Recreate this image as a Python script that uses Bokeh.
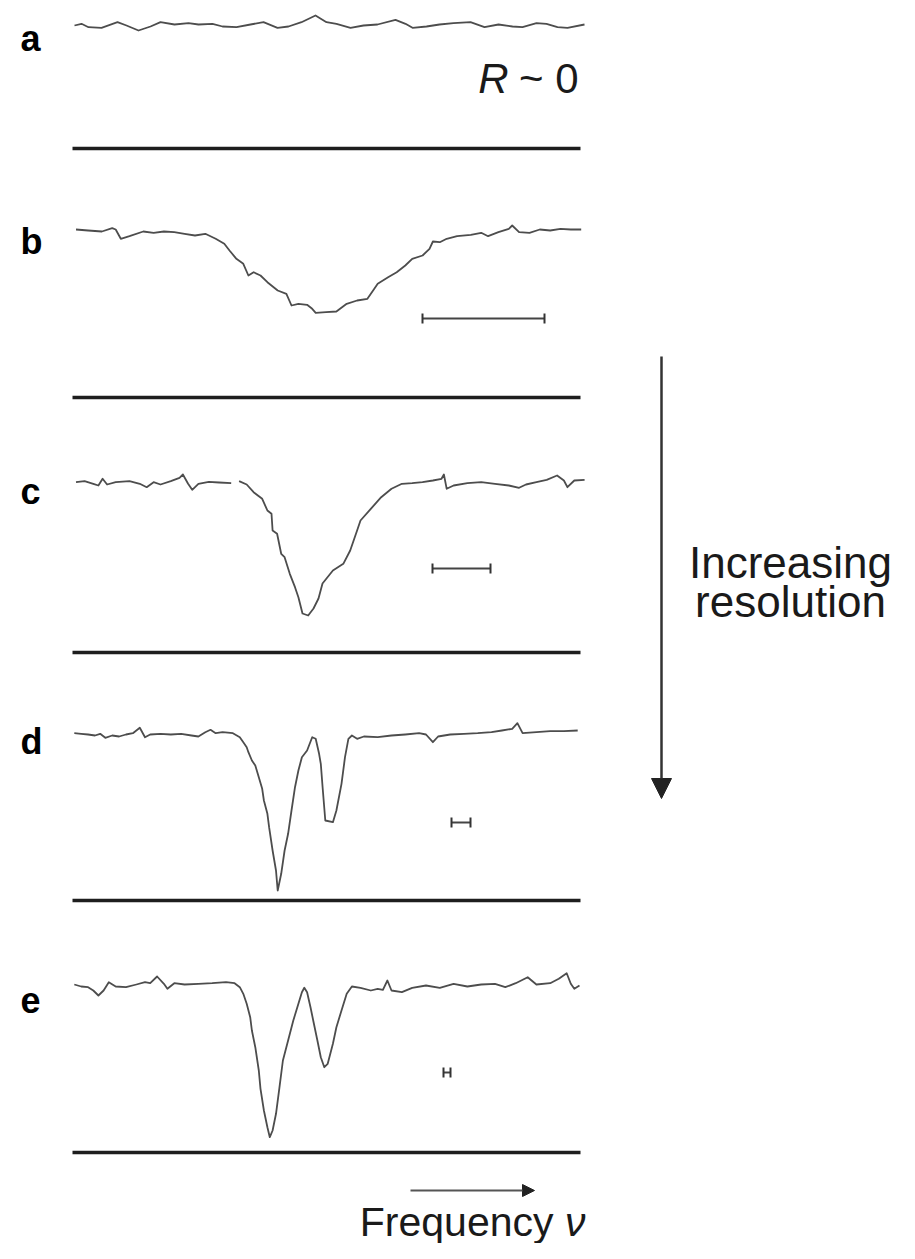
import math
from bokeh.plotting import figure
from bokeh.models import Range1d, Arrow, NormalHead
from bokeh.core.properties import value
from bokeh.embed import file_html
from bokeh.resources import INLINE

NAN = float("nan")

# ---------------- data ----------------
# frequency (arb. units) and recorded signal above the zero level (arb. units)
nu_a = [74, 81, 88, 101, 117, 126, 138, 150, 160, 174, 188, 198, 212, 222, 236, 250, 263, 277,
        288, 301, 315, 326, 336, 350, 363, 377, 395, 405, 412, 426, 439, 453, 470, 484, 498,
        512, 522, 536, 546, 557, 567, 584]
sig_a = [123, 124.7, 121.3, 120.7, 126.3, 123, 118, 122, 126.3, 124, 125.3, 124, 124.7, 122,
         121.3, 124, 126.3, 120.7, 122, 126.3, 133, 126.3, 124.7, 120.7, 123, 124, 128.7, 124.7,
         120.7, 122, 124, 125.3, 126.3, 121.3, 124, 122, 121.3, 125.3, 124.7, 121.3, 120.7, 124]

nu_b = [75.5, 87.6, 101.4, 111.7, 115.2, 120.3, 129, 142.8, 153.1, 163.4,
        173.8, 184.1, 194.5, 204.8, 215.2, 223.8, 229, 235.9, 242.8, 247.9,
        253.1, 260, 266.9, 277.2, 285.9, 291, 297.9, 306.6, 311.7, 315.2,
        325.5, 335.9, 346.2, 356.6, 366.9, 373.8, 377.2, 387.6, 396.2, 404.8,
        411.7, 422.1, 429, 432.4, 439.3, 446.2, 456.6, 470.3, 480.7, 487.6,
        497.9, 508.3, 511.7, 518.6, 529, 539.3, 549.7, 560, 570.3, 580.7]
sig_b = [168, 167, 166, 169.3, 168, 158.7, 161.3, 166, 164.7, 166,
         165.3, 163.7, 162, 163.7, 158.7, 153.7, 147, 138.7, 133.7, 122,
         125.3, 122, 115.3, 107, 103.7, 92, 93.7, 92.7, 88.7, 84.7,
         85.3, 86, 93.7, 97, 98.7, 108.7, 113.7, 120.3, 125.3, 132,
         138.7, 142, 148.7, 156, 155.3, 158.7, 161.3, 162.7, 164.7, 161.3,
         165.3, 168.7, 172, 165.3, 164.7, 168, 167, 168.7, 168, 168]

nu_c = [75.5, 84.1, 92.8, 97.9, 102.1, 106.6, 115.2, 129, 139.3, 146.2,
        153.1, 160, 170.3, 179, 182.4, 187.6, 191.7, 197.9, 208.3, 218.6,
        230.7, 234.5, 238.6, 246.2, 253.1, 261.7, 266.9, 271, 272.1, 276.6,
        280.7, 284.1, 289.3, 294.5, 297.9, 302, 307.7, 313, 318, 322,
        332.4, 342.8, 349.7, 356.6, 360, 370.3, 380.7, 391, 401.4, 411.7,
        422, 432.4, 441, 443.4, 446.2, 453.1, 466.9, 480.7, 494.5, 508.3,
        518.6, 525.5, 535.9, 546.2, 556.6, 563.4, 566.9, 573.8, 584.1]
sig_c = [170.3, 171.3, 168.7, 167, 173.7, 168, 170.3, 171.3, 168.7, 165.3,
         170.3, 168, 171.3, 174.7, 178, 168.7, 162.7, 168.7, 170.7, 170,
         169.3, NAN, 171.3, 168, 160.3, 153.7, 142, 138.7, 122, 118.7,
         98.7, 95.3, 78.7, 65.3, 55.3, 39, 37, 44, 54, 69,
         82, 88.7, 102, 122, 132, 143.7, 155.3, 163.7, 168.7, 169.3,
         170.3, 172, 173.7, 178, 163.7, 167, 169.3, 170.3, 168.7, 167,
         164.7, 168, 170.3, 172.7, 177, 172, 165.3, 172, 172.7]

nu_d = [73.8, 80.7, 87.6, 94.5, 99.7, 104.8, 111.7, 118.6, 125.5, 132.4,
        139.3, 144.5, 149.7, 160, 170.3, 180.7, 191, 197.9, 204.8, 210,
        215.2, 222.1, 232.4, 239.3, 242.8, 246.2, 247.9, 251.4, 254.8, 258.3,
        261.7, 263.4, 266.9, 268.6, 272.1, 275.5, 277.2, 280.7, 284.1, 287.6,
        291, 294.5, 297.9, 301.4, 306.6, 311.7, 315.2, 318.6, 320.3, 322.1,
        324.8, 332.4, 335.9, 341, 344.5, 347.9, 351.4, 356.6, 363.4, 377.2,
        391, 404.8, 418.6, 425.5, 432.4, 437.6, 449.7, 463.4, 477.2, 491,
        501.4, 511.7, 516.9, 522.1, 535.9, 549.7, 563.4, 577.2]
sig_d = [167.3, 166.7, 166, 165, 166.7, 162.7, 165, 164, 166, 167.3,
         172.7, 163.3, 166, 166.7, 166, 166.7, 165, 164, 168.3, 170.7,
         167.3, 168.3, 167.3, 163.3, 158.3, 153.3, 148.3, 140, 135, 123.3,
         111.7, 100, 86.7, 73.3, 50, 30, 10, 26.7, 50, 66.7,
         90, 113.3, 130, 143.3, 150, 163.3, 161.7, 146.7, 136.7, 113.3,
         80, 78.3, 90, 116.7, 143.3, 161.7, 165, 161.7, 164, 163.3,
         165, 166, 167.3, 166, 158.3, 164, 166, 166.7, 167.3, 168.3,
         170, 171.7, 177.3, 167.3, 168.3, 169.3, 169.3, 170]

nu_e = [73.8, 80.7, 87.6, 92.8, 97.9, 103.1, 108.3, 115.2, 125.5, 135.9,
        144.5, 149.7, 156.6, 163.4, 166.9, 173.8, 184.1, 197.9, 211.7, 225.5,
        234.1, 239.3, 242.8, 246.2, 249.7, 251.4, 254.8, 258.3, 260, 263.4,
        266.9, 269.3, 272.1, 275.5, 279, 282.4, 287.6, 292.8, 297.9, 301.4,
        303.8, 306.6, 310, 313.4, 316.9, 320.3, 323.8, 327.2, 332.4, 335.9,
        341, 346.2, 351.4, 360, 370.3, 377.2, 382.4, 386.9, 391, 401.4,
        411.7, 425.5, 439.3, 453.1, 466.9, 480.7, 494.5, 504.8, 515.2, 527.2,
        535.9, 549.7, 558.3, 566.2, 570.3, 573.8, 579]
sig_e = [168, 166, 165.3, 162, 157, 162, 170.3, 166, 165.3, 168,
         170.3, 169.3, 176, 168.7, 163.7, 169.3, 168, 168.7, 169.3, 170.3,
         169.3, 165.3, 158.7, 148.7, 135.3, 122, 105.3, 82, 63.7, 42,
         25.3, 15.3, 22, 38.7, 65.3, 92, 112, 132, 148.7, 160.3,
         164.7, 160.3, 145.3, 128.7, 112, 95.3, 85.3, 88.7, 108.7, 125.3,
         142, 158.7, 166, 164.7, 162, 163.7, 162.7, 172, 162, 160.3,
         164.7, 167, 164.7, 168.7, 166, 168, 168.7, 165.3, 169.3, 175.3,
         168, 169.3, 173.7, 179.3, 168.7, 163.7, 167]

panel_names = ["a", "b", "c", "d", "e"]
# spectral resolution of the instrument (frequency interval, arb. units)
res_lo = [NAN, 422, 432, 451, 443]
res_hi = [NAN, 544, 490, 470, 450]

# ---------------- layout ----------------
W, H = 899, 1243
FONT = "Liberation Sans"
TRACE = "#4d4d4d"
INK = "#1a1a1a"

zero_y = [148, 397, 652, 900, 1152]
label_base = [38, 241, 491, 741, 999]
res_y = [None, 318, 568, 822, 1072]
line_x0, line_x1 = 72, 580

p = figure(width=W, height=H, x_range=Range1d(0, W), y_range=Range1d(H, 0),
           output_backend="svg", toolbar_location=None,
           x_axis_location=None, y_axis_location=None, min_border=0)
p.outline_line_color = None
p.grid.visible = False
p.background_fill_color = "white"
p.border_fill_color = "white"

traces = [(nu_a, sig_a), (nu_b, sig_b), (nu_c, sig_c), (nu_d, sig_d), (nu_e, sig_e)]
for (nu, sig), zy in zip(traces, zero_y):
    p.line(nu, [zy - s for s in sig], line_color=TRACE, line_width=1.8, line_join="round")

# zero-level lines
p.segment(x0=[line_x0] * 5, y0=zero_y, x1=[line_x1] * 5, y1=zero_y,
          line_color="#1e1e1e", line_width=3.5)

# panel letters
p.text(x=[20] * 5, y=label_base, text=panel_names, text_font=value(FONT),
       text_font_size=value("36px"), text_font_style="bold", text_color="black",
       text_align="left", text_baseline="alphabetic")

# resolution bars
bx0, bx1, by = [], [], []
for lo, hi, y in zip(res_lo, res_hi, res_y):
    if y is None:
        continue
    bx0.append(lo); bx1.append(hi); by.append(y)
p.segment(x0=bx0, y0=by, x1=bx1, y1=by, line_color="#444444", line_width=2)
cap = 5
p.segment(x0=bx0 + bx1, y0=[y - cap for y in by] * 2, x1=bx0 + bx1, y1=[y + cap for y in by] * 2,
          line_color="#333333", line_width=2)

# R ~ 0
p.text(x=[578], y=[78], text=["~ 0"], text_font=value(FONT), text_font_size=value("42px"),
       text_color=INK, text_align="right", text_baseline="alphabetic")
p.text(x=[508], y=[78], text=["R"], text_font=value(FONT), text_font_size=value("42px"),
       text_font_style="italic", text_color=INK, text_align="right", text_baseline="alphabetic")

# increasing resolution arrow
p.add_layout(Arrow(end=NormalHead(size=20, fill_color="#222222", line_color="#222222"),
                   x_start=661, y_start=356, x_end=661, y_end=798,
                   line_color="#333333", line_width=2.5))
p.text(x=[790, 790], y=[562, 601], text=["Increasing", "resolution"], text_font=value(FONT),
       text_font_size=value("44px"), text_color=INK, text_align="center",
       text_baseline="alphabetic")

# frequency arrow
p.add_layout(Arrow(end=NormalHead(size=12, fill_color="#222222", line_color="#222222"),
                   x_start=410, y_start=1190, x_end=534, y_end=1190,
                   line_color="#555555", line_width=2))
p.text(x=[553], y=[1221], text=["Frequency"], text_font=value(FONT), text_font_size=value("41px"),
       text_color=INK, text_align="right", text_baseline="alphabetic")
p.text(x=[585], y=[1221], text=["\u03bd"], text_font=value(FONT), text_font_size=value("41px"),
       text_font_style="italic", text_color=INK, text_align="right", text_baseline="alphabetic")

open("out.html", "w").write(file_html(p, INLINE))
